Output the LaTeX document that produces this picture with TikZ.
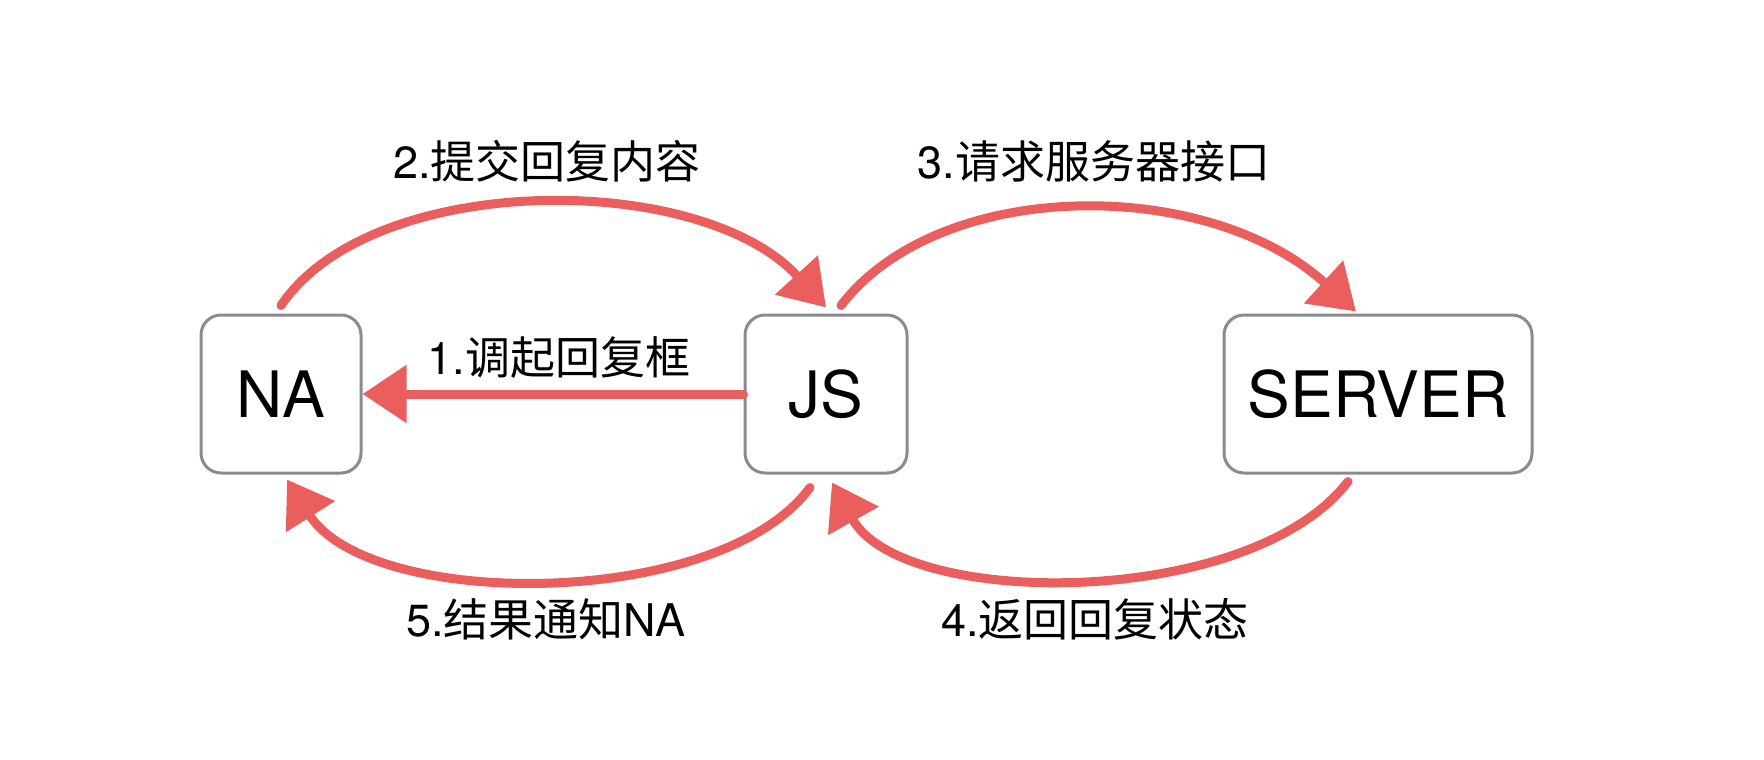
\documentclass[tikz,border=0pt]{standalone}
\usepackage{fontspec}
\setmainfont{TeX Gyre Heros}
\newfontfamily\cjk{Noto Sans CJK SC}
\usetikzlibrary{arrows.meta}
\definecolor{arrowred}{HTML}{EA5F5E}
\definecolor{boxgray}{HTML}{8A8B90}
\tikzset{
  boxnode/.style={draw=boxgray, line width=3pt, rounded corners=20pt, minimum height=158pt, inner sep=0pt, fill=white, font=\fontsize{64}{72}\selectfont},
  redarrow/.style={draw=arrowred, line width=9pt, line cap=round, -{Triangle[length=44pt,width=56pt]}},
  lbl/.style={inner sep=0pt, font=\fontsize{45}{54}\selectfont}
}
\begin{document}
\begin{tikzpicture}[x=1pt,y=-1pt]
\useasboundingbox (0,0) rectangle (1764,760);
\fill[white] (0,0) rectangle (1764,760);
\node[boxnode, minimum width=160pt] (na) at (281,394) {NA};
\node[boxnode, minimum width=162pt] (js) at (826,394) {JS};
\node[boxnode, minimum width=308pt] (server) at (1378,394) {SERVER};

\draw[redarrow] (js.west) -- (na.east);
\draw[redarrow] ([yshift=8pt]na.north) .. controls +(91,-135) and +(-125,-137) .. ([yshift=6pt]js.north);
\draw[redarrow] ([xshift=15pt,yshift=8pt]js.north) .. controls +(99,-129) and +(-148,-135) .. ([xshift=-22pt,yshift=2pt]server.north);
\draw[redarrow] ([xshift=-30pt,yshift=-7pt]server.south) .. controls +(-98,128) and +(71,127) .. ([xshift=6pt,yshift=-8pt]js.south);
\draw[redarrow] ([xshift=-16pt,yshift=-13pt]js.south) .. controls +(-90,123) and +(83,131) .. ([xshift=6pt,yshift=-5pt]na.south);

\node[lbl] (l2) at (547,161) {2.{\cjk 提交回复内容}};
\node[lbl] (l3) at (1094,161) {3.{\cjk 请求服务器接口}};
\node[lbl] (l1) at (559,358) {1.{\cjk 调起回复框}};
\node[lbl] (l5) at (546,619) {5.{\cjk 结果通知}NA};
\node[lbl] (l4) at (1095,619) {4.{\cjk 返回回复状态}};
\end{tikzpicture}
\end{document}
